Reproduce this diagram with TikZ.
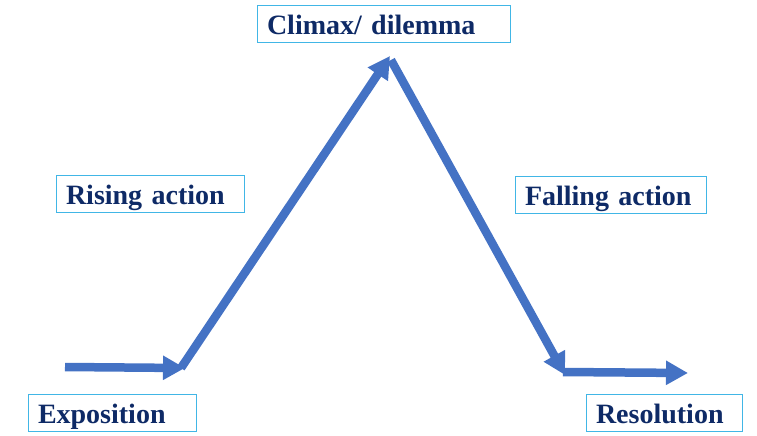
\documentclass[tikz,border=0pt]{standalone}
\usepackage{fontspec}
\setmainfont{Liberation Serif}
\usetikzlibrary{arrows.meta}
\definecolor{navy}{HTML}{0E2A66}
\definecolor{boxline}{HTML}{41B6E6}
\definecolor{arrowblue}{HTML}{4472C4}
\tikzset{
  stagebox/.style={draw=boxline, line width=1pt, fill=white, text=navy,
    font=\fontsize{28}{33}\selectfont\bfseries,
    inner xsep=10pt, inner ysep=8pt, text height=21pt, text depth=0pt,
    align=left},
  plotarrow/.style={draw=arrowblue, line width=8.5pt,
    -{Triangle[length=22pt,width=23pt]}}
}
\begin{document}
\begin{tikzpicture}[x=1pt,y=-1pt]
\useasboundingbox (0,0) rectangle (757,436);
\node[stagebox, text width=233pt] (climax) at (383.5,24.5) {Climax/ dilemma};
\node[stagebox, text width=168pt] (rising) at (150,194) {Rising action};
\node[stagebox, text width=171pt] (falling) at (610.5,195) {Falling action};
\node[stagebox, text width=148pt] (expo) at (112,412.5) {Exposition};
\node[stagebox, text width=136pt] (reso) at (664,412.5) {Resolution};
\coordinate (s) at (65,367);
\coordinate (p1) at (185,368);
\coordinate (p1b) at (181,368);
\coordinate (top) at (390,56);
\coordinate (topb) at (391,60);
\coordinate (p2) at (565,375);
\coordinate (p2b) at (563,372);
\coordinate (e) at (688,373);
\draw[plotarrow] (s) -- (p1);
\draw[plotarrow] (p1b) -- (top);
\draw[plotarrow] (topb) -- (p2);
\draw[plotarrow] (p2b) -- (e);
\end{tikzpicture}
\end{document}
